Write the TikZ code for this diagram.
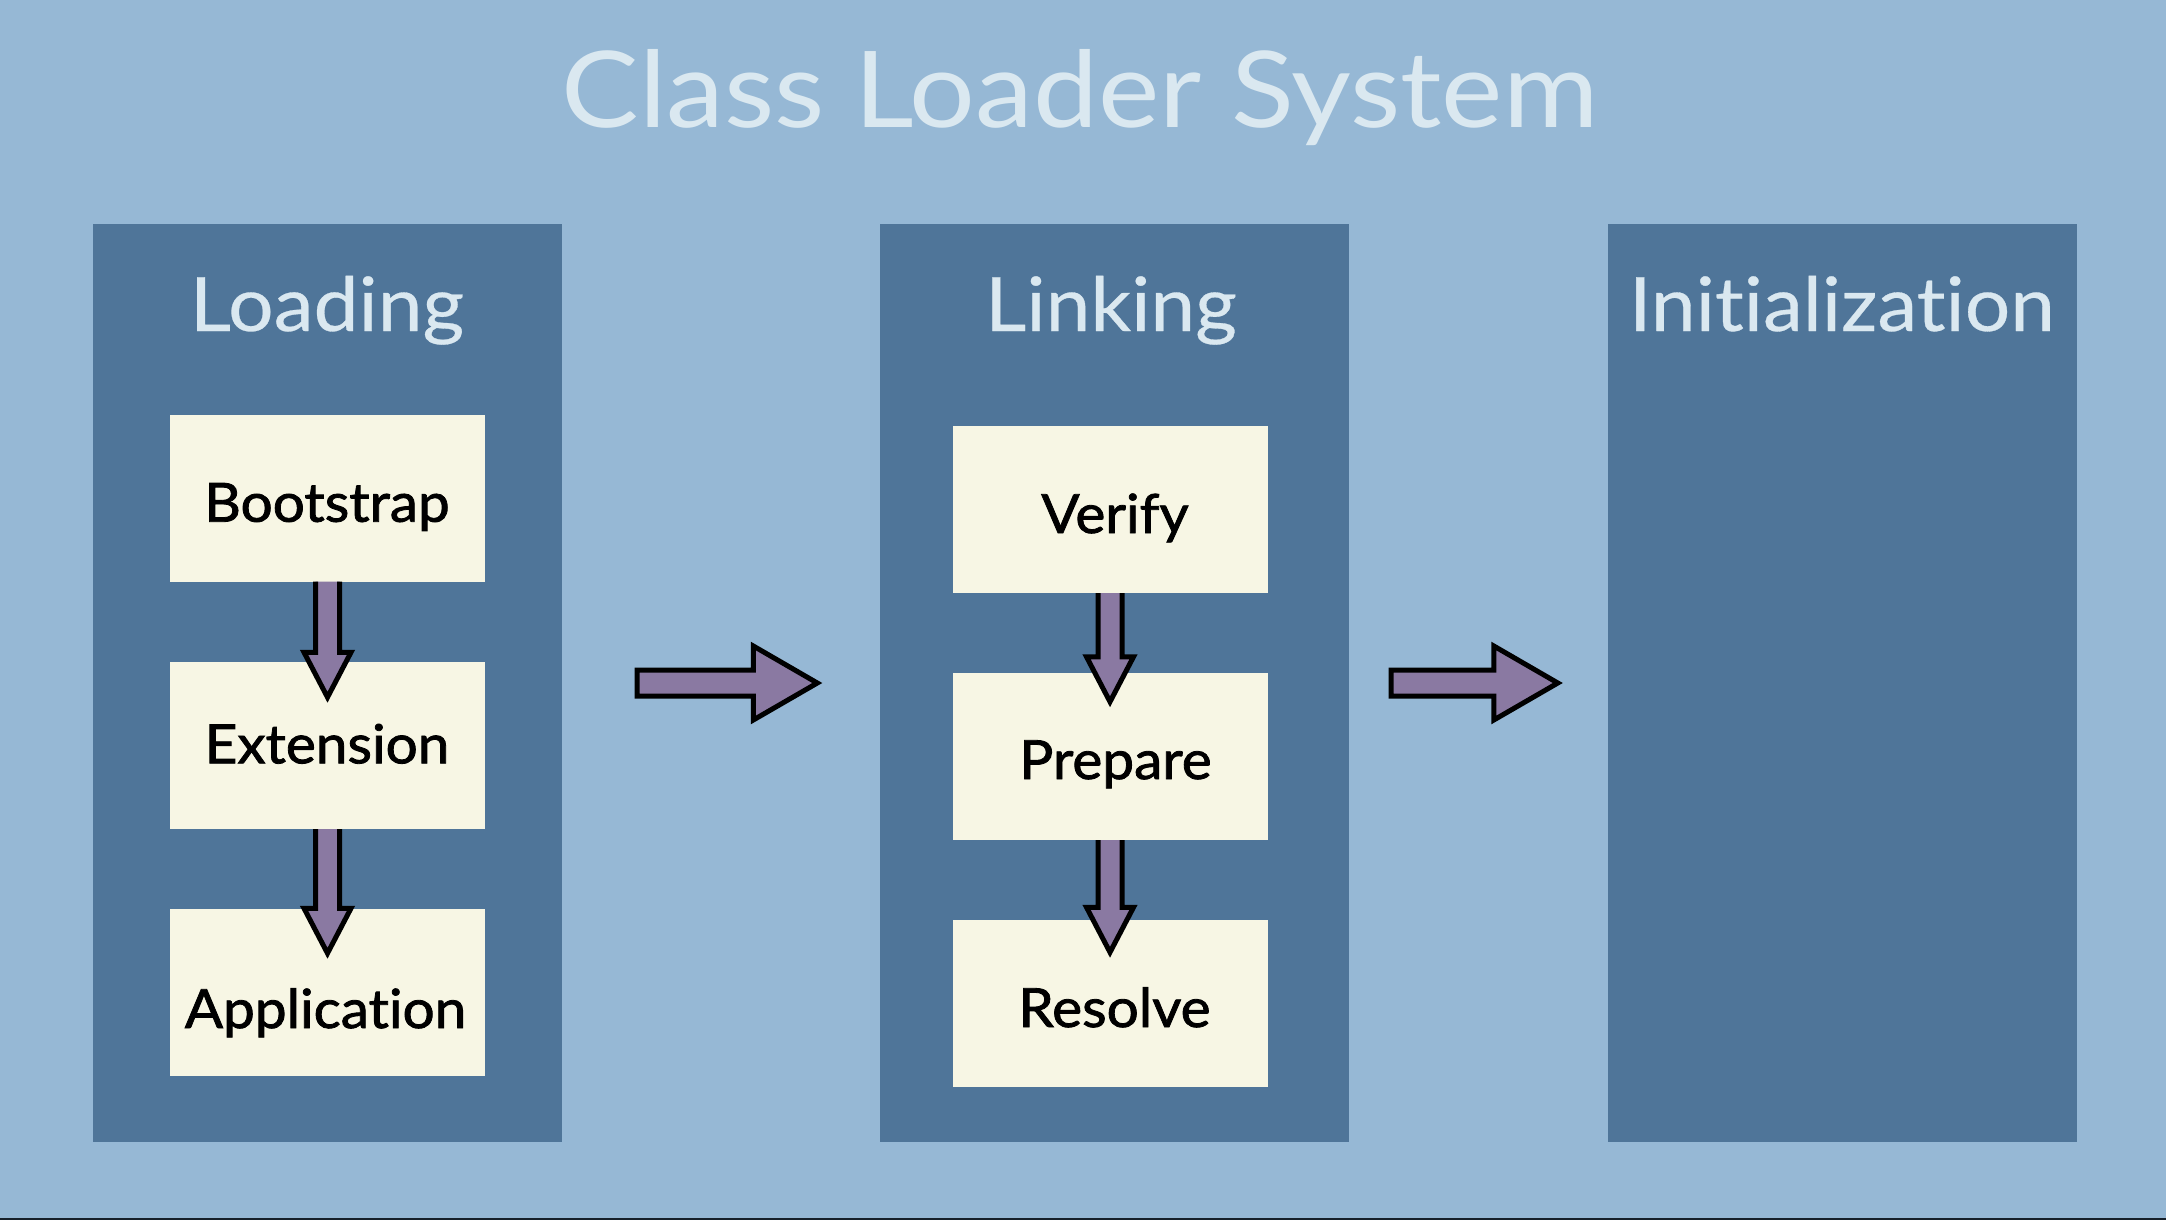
\documentclass[tikz,border=0pt]{standalone}
\usepackage{fontspec}
\usetikzlibrary{calc}
\newfontfamily\titlefont[FakeStretch=1.095, Ligatures=NoCommon]{Lato}
\newfontfamily\headfont[FakeStretch=1.07, FakeBold=0.4, Ligatures=NoCommon]{Lato}
\newfontfamily\latobold[FakeStretch=1.05, FakeBold=1.5, Ligatures=NoCommon]{Lato}
\definecolor{bgc}{HTML}{96B8D5}
\definecolor{panelc}{HTML}{4F7599}
\definecolor{boxc}{HTML}{F7F6E4}
\definecolor{arrowc}{HTML}{8A79A2}
\definecolor{lightc}{HTML}{DAE8F0}
\definecolor{edgec}{HTML}{16202A}
\newcommand{\connDown}[3]{%
  \draw[smallarrow] ($(#1.south)+(-12,0)$) -- ($(#2.north)+(-12,{#3-45})$) -- ($(#2.north)+(-23.5,{#3-45})$) -- ($(#2.north)+(0,#3)$) -- ($(#2.north)+(23.5,{#3-45})$) -- ($(#2.north)+(12,{#3-45})$) -- ($(#1.south)+(12,0)$);}
\newcommand{\connRight}[4]{%
  \draw[bigarrow] ($(#1.east)+(#3,-13)$) -- ($(#2.west)+({-#4-64},-13)$) -- ($(#2.west)+({-#4-64},-37)$) -- ($(#2.west)+({-#4},0)$) -- ($(#2.west)+({-#4-64},37)$) -- ($(#2.west)+({-#4-64},13)$) -- ($(#1.east)+(#3,13)$) -- cycle;}
\begin{document}
\begin{tikzpicture}[x=1pt,y=-1pt,
  panel/.style={fill=panelc, draw=none, inner sep=0pt, minimum width=469pt, minimum height=918pt},
  stagebox/.style={fill=boxc, draw=none, inner sep=0pt, minimum width=315pt, minimum height=167pt},
  titletext/.style={text=lightc, inner sep=0pt, font=\titlefont\fontsize{106}{120}\selectfont},
  headtext/.style={text=lightc, inner sep=0pt, font=\headfont\fontsize{75}{90}\selectfont},
  boxtext/.style={text=black, inner sep=0pt, font=\latobold\fontsize{54}{64}\selectfont},
  smallarrow/.style={draw=black, fill=arrowc, line width=5pt, miter limit=10},
  bigarrow/.style={draw=black, fill=arrowc, line width=5pt, miter limit=10}]
\fill[bgc] (0,0) rectangle (2166,1220);
\useasboundingbox (0,0) rectangle (2166,1220);
\fill[edgec] (0,1218) rectangle (2166,1220);
\node[titletext, anchor=base] (title) at (1080,128) {Class Loader System};
% panels
\node[panel] (loading) at (327,683) {};
\node[panel] (linking) at (1114,683) {};
\node[panel] (init) at (1842,683) {};
\node[headtext, anchor=base] (loadingT) at (327,331) {Loading};
\node[headtext, anchor=base] (linkingT) at (1111,331) {Linking};
\node[headtext, anchor=base] (initT) at (1842,331) {Initialization};
% loading boxes
\node[stagebox] (boot) at (327.5,498) {};
\node[stagebox] (ext) at (327.5,745.5) {};
\node[stagebox] (app) at (327.5,992.5) {};
\node[boxtext, anchor=base] (bootT) at (327,521.7) {Bootstrap};
\node[boxtext, anchor=base] (extT) at (327,763.3) {Extension};
\node[boxtext, anchor=base] (appT) at (325.5,1028) {Application};
% linking boxes
\node[stagebox] (ver) at (1110,509.5) {};
\node[stagebox] (prep) at (1110,756.5) {};
\node[stagebox] (res) at (1110,1003.5) {};
\node[boxtext, anchor=base] (verT) at (1115,533) {Verify};
\node[boxtext, anchor=base] (prepT) at (1115.5,779) {Prepare};
\node[boxtext, anchor=base] (resT) at (1114.5,1027) {Resolve};
% connectors
\connDown{boot}{ext}{35.5}
\connDown{ext}{app}{44.5}
\connDown{ver}{prep}{29}
\connDown{prep}{res}{32.5}
\connRight{loading}{linking}{75.5}{62}
\connRight{linking}{init}{42.5}{49.5}
\end{tikzpicture}
\end{document}
